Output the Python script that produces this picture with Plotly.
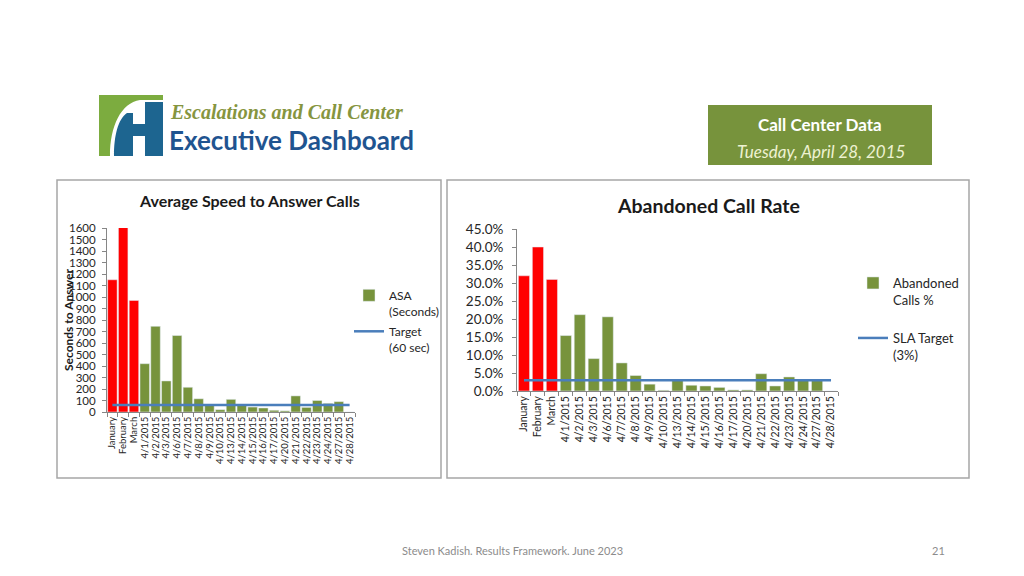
import plotly.graph_objects as go

W, H = 1024, 576

# ---------------- data ----------------
categories = ["January", "February", "March", "4/1/2015", "4/2/2015", "4/3/2015",
              "4/6/2015", "4/7/2015", "4/8/2015", "4/9/2015", "4/10/2015", "4/13/2015",
              "4/14/2015", "4/15/2015", "4/16/2015", "4/17/2015", "4/20/2015",
              "4/21/2015", "4/22/2015", "4/23/2015", "4/24/2015", "4/27/2015", "4/28/2015"]
months = categories[:3]
days = categories[3:]

asa_months = [1150, 1610, 970]
asa_days = [420, 745, 270, 665, 215, 115, 60, 20, 110, 60, 43, 35, 15, 10,
            140, 40, 100, 75, 90, 0]
asa_target = 60

aband_months = [0.320, 0.400, 0.310]
aband_days = [0.154, 0.212, 0.090, 0.206, 0.078, 0.043, 0.019, 0.002, 0.030,
              0.016, 0.014, 0.010, 0.003, 0.003, 0.048, 0.014, 0.039, 0.030,
              0.029, 0.0]
sla_target = 0.03

asa_ticks = list(range(0, 1601, 100))

# ---------------- styling ----------------
RED = "#FF0000"
GREEN = "#77933C"
BLUE = "#4A7EBB"
FONT = "Lato"
AX = "#868686"


def px(x):
    return x / W


def py(y):
    return 1 - y / H


fig = go.Figure()

# Left chart
fig.add_trace(go.Bar(x=months, y=asa_months, marker_color=RED, width=0.88,
                     showlegend=False, xaxis="x", yaxis="y"))
fig.add_trace(go.Bar(x=days, y=asa_days, marker_color=GREEN, width=0.88,
                     name="ASA<br>(Seconds)", legend="legend", xaxis="x", yaxis="y"))
fig.add_trace(go.Scatter(x=categories, y=[asa_target] * len(categories), mode="lines",
                         line=dict(color=BLUE, width=2.5), name="Target<br>(60 sec)",
                         legend="legend2", xaxis="x", yaxis="y"))

# Right chart
fig.add_trace(go.Bar(x=months, y=aband_months, marker_color=RED, width=0.8,
                     showlegend=False, xaxis="x2", yaxis="y2"))
fig.add_trace(go.Bar(x=days, y=aband_days, marker_color=GREEN, width=0.8,
                     name="Abandoned<br>Calls %", legend="legend3", xaxis="x2", yaxis="y2"))
fig.add_trace(go.Scatter(x=categories, y=[sla_target] * len(categories), mode="lines",
                         line=dict(color=BLUE, width=2.5), name="SLA Target<br>(3%)",
                         legend="legend4", xaxis="x2", yaxis="y2"))

xcommon = dict(type="category", categoryorder="array", categoryarray=categories,
               tickmode="linear", tick0=0, dtick=1, automargin=False,
               tickangle=-90, showline=True, linecolor=AX, linewidth=1,
               ticks="outside", tickson="boundaries", ticklen=4, tickcolor=AX,
               showgrid=False, zeroline=False, fixedrange=True)
ycommon = dict(showline=True, linecolor=AX, linewidth=1, ticks="outside", ticklen=4,
               tickcolor=AX, showgrid=False, zeroline=False, fixedrange=True,
               automargin=False)

leg_common = dict(bgcolor="rgba(0,0,0,0)", borderwidth=0, valign="top",
                  xanchor="left", yanchor="top", itemclick=False, itemdoubleclick=False)

shapes = []
# chart frames
shapes.append(dict(type="rect", xref="paper", yref="paper", x0=px(57), x1=px(441),
                   y0=py(478), y1=py(180), line=dict(color="#A6A6A6", width=1.5)))
shapes.append(dict(type="rect", xref="paper", yref="paper", x0=px(447), x1=px(969),
                   y0=py(478), y1=py(180), line=dict(color="#A6A6A6", width=1.5)))
# Call center data box
shapes.append(dict(type="rect", xref="paper", yref="paper", x0=px(708), x1=px(932),
                   y0=py(165), y1=py(105), line=dict(width=0), fillcolor="#77933C"))


def path(pts):
    s = ""
    for cmd, coords in pts:
        s += cmd
        s += " ".join(f"{px(coords[i]):.5f},{py(coords[i + 1]):.5f}"
                      for i in range(0, len(coords), 2))
        s += " "
    return s + "Z"


# logo (green part)
green_path = path([("M", (99, 95)), ("L", (163, 95)), ("L", (163, 100)), ("L", (140, 100)),
                   ("C", (121, 103, 110, 126, 110, 156)), ("L", (99, 156))])
shapes.append(dict(type="path", xref="paper", yref="paper", path=green_path,
                   fillcolor="#7CAC3F", line=dict(width=0)))
blue_path = path([("M", (114, 156)), ("C", (114, 136, 118, 119, 127, 113)), ("L", (133, 113)),
                  ("L", (133, 124)), ("L", (145, 124)), ("L", (145, 102)), ("L", (163, 102)),
                  ("L", (163, 156)), ("L", (145, 156)), ("L", (145, 136)), ("L", (133, 136)),
                  ("L", (133, 156))])
shapes.append(dict(type="path", xref="paper", yref="paper", path=blue_path,
                   fillcolor="#1D6590", line=dict(width=0)))

annotations = [
    dict(text="<b><i>Escalations and Call Center</i></b>", x=px(168), y=py(112),
         xanchor="left", yanchor="middle", font=dict(family="Liberation Serif", size=20,
                                                     color="#86953F")),
    dict(text="<b>Executive Dashboard</b>", x=px(167), y=py(140), xanchor="left",
         yanchor="middle", font=dict(family=FONT, size=26, color="#1F5490")),
    dict(text="<b>Call Center Data</b>", x=px(820), y=py(125), xanchor="center",
         yanchor="middle", font=dict(family=FONT, size=17, color="white")),
    dict(text="<i>Tuesday, April 28, 2015</i>", x=px(821), y=py(152), xanchor="center",
         yanchor="middle", font=dict(family=FONT, size=17, color="#EEF2D2")),
    dict(text="<b>Average Speed to Answer Calls</b>", x=px(249), y=py(201),
         xanchor="center", yanchor="middle", font=dict(family=FONT, size=16, color="#1A1A1A")),
    dict(text="<b>Seconds to Answer</b>", x=px(68), y=py(320), textangle=-90,
         xanchor="center", yanchor="middle", font=dict(family=FONT, size=12, color="#1A1A1A")),
    dict(text="<b>Abandoned Call Rate</b>", x=px(708), y=py(206), xanchor="center",
         yanchor="middle", font=dict(family=FONT, size=19.5, color="#1A1A1A")),
    dict(text="Steven Kadish. Results Framework. June 2023", x=px(512), y=py(550),
         xanchor="center", yanchor="middle", font=dict(family=FONT, size=11, color="#8C8C8C")),
    dict(text="21", x=px(938), y=py(550), xanchor="center", yanchor="middle",
         font=dict(family=FONT, size=11, color="#8C8C8C")),
]
for a in annotations:
    a.update(xref="paper", yref="paper", showarrow=False)

fig.update_layout(
    width=W, height=H, autosize=False,
    margin=dict(l=0, r=0, t=0, b=0, pad=0, autoexpand=False),
    paper_bgcolor="white", plot_bgcolor="white",
    barmode="overlay",
    font=dict(family=FONT, color="#262626"),
    xaxis=dict(domain=[px(107), px(355)], anchor="y", tickfont=dict(size=9.5), **xcommon),
    yaxis=dict(domain=[py(412), py(228)], anchor="x", range=[0, 1600], tickvals=asa_ticks,
               tickfont=dict(size=11.5), ticklabelstandoff=4, **ycommon),
    xaxis2=dict(domain=[px(517), px(838)], anchor="y2", tickfont=dict(size=10.5), **xcommon),
    yaxis2=dict(domain=[py(391), py(229)], anchor="x2", range=[0, 0.45], dtick=0.05,
                tickformat=".1%", tickfont=dict(size=13.5), ticklabelstandoff=6, **ycommon),
    legend=dict(x=px(349), y=py(281), font=dict(size=12), **leg_common),
    legend2=dict(x=px(349), y=py(317), font=dict(size=12), **leg_common),
    legend3=dict(x=px(853), y=py(268), font=dict(size=13), **leg_common),
    legend4=dict(x=px(853), y=py(323), font=dict(size=13), **leg_common),
    shapes=shapes,
    annotations=annotations,
)

fig.write_html(
    "out.html",
    config={"displayModeBar": False},
    post_script="document.body.style.margin='0';document.body.style.overflow='hidden';",
)
